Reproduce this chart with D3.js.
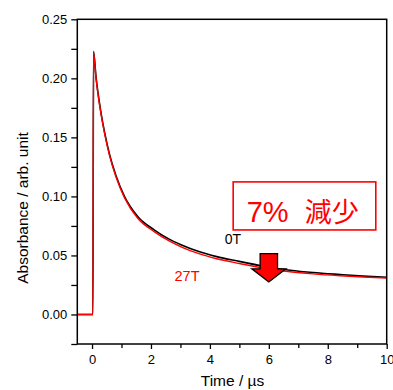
<!DOCTYPE html>
<html>
<head>
<meta charset="utf-8">
<script src="https://cdn.jsdelivr.net/npm/d3@7"></script>
<style>
  body { margin: 0; background: #fff; }
  text { font-family: "Liberation Sans", Arial, sans-serif; }
</style>
</head>
<body>
<div id="chart"></div>
<script>
// time axis (µs) and the two decay traces
var times  = [-0.5, 0.0, 0.03, 0.05, 0.136, 0.19, 0.31, 0.42, 0.59, 0.82, 1.10, 1.55, 2.12, 2.6, 3.08, 3.6, 4.23, 5.0, 6.0, 6.72, 7.5, 8.42, 9.2, 10];
var abs0T  = [0, 0, 0, 0.223, 0.201, 0.190, 0.170, 0.155, 0.136, 0.117, 0.100, 0.083, 0.0715, 0.064, 0.0585, 0.0535, 0.049, 0.045, 0.040, 0.0375, 0.0355, 0.0338, 0.0325, 0.0315];
var abs27T = [0, 0, 0, 0.222, 0.200, 0.189, 0.169, 0.154, 0.135, 0.116, 0.099, 0.0815, 0.070, 0.0625, 0.0567, 0.0517, 0.0472, 0.0432, 0.0385, 0.0362, 0.0344, 0.0328, 0.0317, 0.0308];

var xTicks = [0, 2, 4, 6, 8, 10];
var xMinor = [1, 3, 5, 7, 9];
var yTicks = [0, 0.05, 0.10, 0.15, 0.20, 0.25];
var yMinor = [-0.025, 0.025, 0.075, 0.125, 0.175, 0.225];

var margin = {top: 19.3, right: 6.3, bottom: 46, left: 77.3};
var W = 393, H = 390;
var width = W - margin.left - margin.right;
var height = H - margin.top - margin.bottom;

var svg = d3.select("#chart").append("svg")
  .attr("width", W).attr("height", H);
var g = svg.append("g")
  .attr("transform", "translate(" + margin.left + "," + margin.top + ")");

var x = d3.scaleLinear().domain([-0.5, 10]).range([0, width]);
var y = d3.scaleLinear().domain([-0.025, 0.25]).range([height, 0]);

// minor ticks first, then major ticks with labels
g.append("g").attr("transform", "translate(0," + height + ")")
  .call(d3.axisBottom(x).tickValues(xMinor).tickSize(4).tickFormat(""))
  .call(function(a){ a.select(".domain").remove(); });
g.append("g").attr("transform", "translate(0," + height + ")")
  .call(d3.axisBottom(x).tickValues(xTicks).tickSize(5).tickPadding(6).tickFormat(d3.format("d")))
  .call(function(a){ a.select(".domain").remove(); a.selectAll("text").style("font-size", "13px").attr("fill", "#000"); });

g.append("g")
  .call(d3.axisLeft(y).tickValues(yMinor).tickSize(6).tickFormat(""))
  .call(function(a){ a.select(".domain").remove(); });
g.append("g")
  .call(d3.axisLeft(y).tickValues(yTicks).tickSize(6).tickPadding(4).tickFormat(d3.format(".2f")))
  .call(function(a){ a.select(".domain").remove(); a.selectAll("text").style("font-size", "13px").attr("fill", "#000"); });

g.selectAll(".tick line").attr("stroke", "#000").attr("stroke-width", 1.3);

svg.append("defs").append("clipPath").attr("id", "clip")
  .append("rect").attr("width", width).attr("height", height);

var plot = g.append("g").attr("clip-path", "url(#clip)");

var line = function(vals) {
  return d3.line()
    .x(function(d, i){ return x(times[i]); })
    .y(function(d){ return y(d); })
    .curve(d3.curveMonotoneX)(vals);
};

plot.append("path").attr("d", line(abs0T))
  .attr("fill", "none").attr("stroke", "#000").attr("stroke-width", 1.6);
plot.append("path").attr("d", line(abs27T))
  .attr("fill", "none").attr("stroke", "#ff0000").attr("stroke-width", 1.4);

// frame
g.append("rect").attr("width", width).attr("height", height)
  .attr("fill", "none").attr("stroke", "#000").attr("stroke-width", 1.5);

// labels
g.append("text").attr("x", x(4.5)).attr("y", y(0.0599))
  .style("font-size", "14px").attr("fill", "#000").text("0T");
g.append("text").attr("x", x(2.8)).attr("y", y(0.0286))
  .style("font-size", "14.5px").attr("fill", "#ff0000").text("27T");

// annotation box
g.append("rect")
  .attr("x", x(4.79)).attr("y", y(0.1123))
  .attr("width", x(9.63) - x(4.79)).attr("height", y(0.0716) - y(0.1123))
  .attr("fill", "#fff").attr("stroke", "#ff0000").attr("stroke-width", 1.6);
g.append("text").attr("x", x(5.25)).attr("y", y(0.0785))
  .attr("fill", "#ff0000").style("font-size", "29px")
  .style("white-space", "pre")
  .html("7%&#160;&#160;<tspan style=\"font-family:'Noto Sans CJK JP'; font-size:27px\">減少</tspan>");

// down arrow
var ax = x(6), aTop = y(0.0515), aNeck = y(0.0387), aTip = y(0.0275);
var arrow = [[ax - 8.7, aTop], [ax + 8.7, aTop], [ax + 8.7, aNeck], [ax + 17, aNeck],
             [ax, aTip], [ax - 17, aNeck], [ax - 8.7, aNeck]];
g.append("path").attr("d", d3.line()(arrow) + "Z")
  .attr("fill", "#ff0000").attr("stroke", "#000").attr("stroke-width", 1.3);

// axis titles
svg.append("text").attr("x", 232.5).attr("y", 386).attr("text-anchor", "middle")
  .style("font-size", "15.5px").attr("fill", "#000").text("Time / \u00b5s");
svg.append("text").attr("transform", "translate(27.5,208) rotate(-90)")
  .attr("text-anchor", "middle").style("font-size", "15.5px").attr("fill", "#000")
  .text("Absorbance / arb. unit");
</script>
</body>
</html>
